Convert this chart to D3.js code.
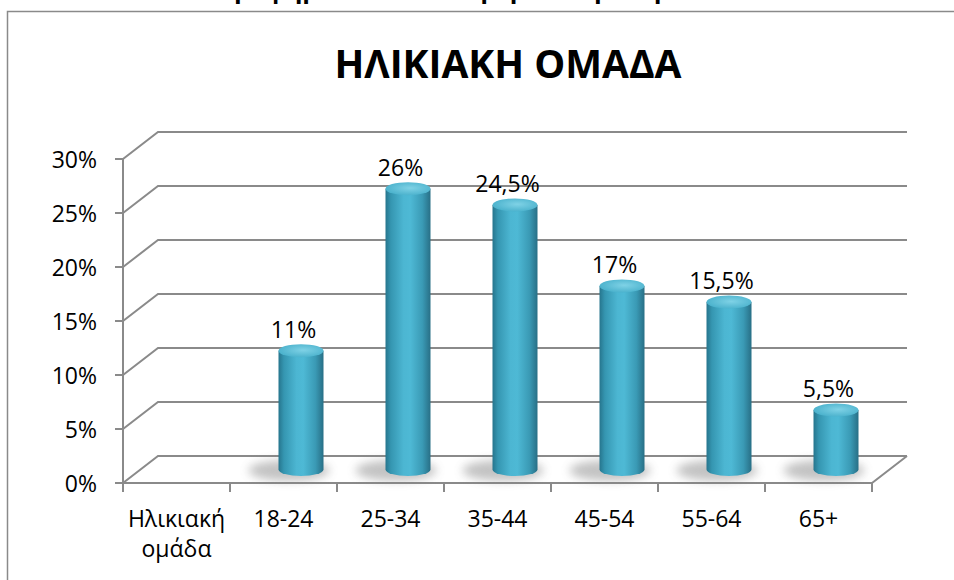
<!DOCTYPE html>
<html>
<head>
<meta charset="utf-8">
<script src="https://cdn.jsdelivr.net/npm/d3@7"></script>
<style>
  body { margin: 0; background: #fff; }
  svg { display: block; font-family: "Open Sans", sans-serif; }
</style>
</head>
<body>
<script>
const categories = ["Ηλικιακή ομάδα", "18-24", "25-34", "35-44", "45-54", "55-64", "65+"];
const values = [null, 11, 26, 24.5, 17, 15.5, 5.5];
const yTicks = [0, 5, 10, 15, 20, 25, 30];
const title = "ΗΛΙΚΙΑΚΗ ΟΜΑΔΑ";
const caption = "Γράφημα 2: Ηλικιακή ομάδα ερωτηθέντων";

const width = 954, height = 580;
const depthX = 35, depthY = -27; // back wall offset

const svg = d3.select("body").append("svg")
  .attr("width", width)
  .attr("height", height);

const defs = svg.append("defs");

// body gradient of the cylinders
const bodyGrad = defs.append("linearGradient").attr("id", "cylBody")
  .attr("x1", "0%").attr("x2", "100%").attr("y1", "0%").attr("y2", "0%");
[["0%", "#26758d"], ["12%", "#3596b1"], ["40%", "#4cb6d2"], ["55%", "#4eb9d5"],
 ["82%", "#3a9ab5"], ["100%", "#286f86"]].forEach(s =>
  bodyGrad.append("stop").attr("offset", s[0]).attr("stop-color", s[1]));

const topGrad = defs.append("radialGradient").attr("id", "cylTop")
  .attr("cx", "55%").attr("cy", "45%").attr("r", "60%");
topGrad.append("stop").attr("offset", "0%").attr("stop-color", "#7fd2e6");
topGrad.append("stop").attr("offset", "100%").attr("stop-color", "#48b0cb");

defs.append("filter").attr("id", "blur")
  .attr("x", "-50%").attr("y", "-100%").attr("width", "200%").attr("height", "300%")
  .append("feGaussianBlur").attr("stdDeviation", 5);

// outer frame
svg.append("rect")
  .attr("x", 7.5).attr("y", 11.5)
  .attr("width", 980).attr("height", 620)
  .attr("fill", "none")
  .attr("stroke", "#8a8a8a")
  .attr("stroke-width", 1.5);

// caption of the page, cut off by the top edge as in the source
svg.append("text")
  .attr("x", 488).attr("y", -2)
  .attr("text-anchor", "middle")
  .attr("font-size", 25)
  .attr("font-weight", "bold")
  .text(caption);

svg.append("text")
  .attr("x", 508).attr("y", 78)
  .attr("text-anchor", "middle")
  .attr("font-size", 39)
  .attr("font-weight", "bold")
  .text(title);

const x = d3.scaleBand()
  .domain(categories)
  .range([123, 872]);

const y = d3.scaleLinear()
  .domain([0, 30])
  .range([483, 159]);

const gridColor = "#8a8a8a";
const grid = svg.append("g")
  .attr("stroke", gridColor)
  .attr("stroke-width", 2)
  .attr("fill", "none");

// back wall gridlines + side diagonals
yTicks.forEach(t => {
  const y0 = y(t);
  grid.append("path")
    .attr("d", `M${x.range()[0]},${y0} L${x.range()[0] + depthX},${y0 + depthY} L${x.range()[1] + depthX},${y0 + depthY}`);
});

// floor right edge and front edge
grid.append("path")
  .attr("d", `M${x.range()[0]},${y(0)} L${x.range()[1]},${y(0)} L${x.range()[1] + depthX},${y(0) + depthY}`);

// y axis
grid.append("line")
  .attr("x1", x.range()[0]).attr("x2", x.range()[0])
  .attr("y1", y(30)).attr("y2", y(0));

yTicks.forEach(t => {
  grid.append("line")
    .attr("x1", x.range()[0] - 8).attr("x2", x.range()[0])
    .attr("y1", y(t)).attr("y2", y(t));
});

// x ticks at band edges
categories.concat([null]).forEach((c, i) => {
  const xp = x.range()[0] + i * x.bandwidth();
  grid.append("line")
    .attr("x1", xp).attr("x2", xp)
    .attr("y1", y(0)).attr("y2", y(0) + 9);
});

svg.append("g").selectAll("text")
  .data(yTicks)
  .join("text")
  .attr("x", 97)
  .attr("y", d => y(d) + 9)
  .attr("text-anchor", "end")
  .attr("font-size", 23)
  .attr("fill", "#000")
  .text(d => d + "%");

// category labels
const catLabels = svg.append("g").selectAll("text")
  .data(categories)
  .join("text")
  .attr("x", d => x(d) + x.bandwidth() / 2)
  .attr("y", 527)
  .attr("text-anchor", "middle")
  .attr("font-size", 23)
  .attr("fill", "#000");

catLabels.each(function(d) {
  const words = d.split(" ");
  const el = d3.select(this);
  words.forEach((w, i) => {
    el.append("tspan")
      .attr("x", x(d) + x.bandwidth() / 2)
      .attr("dy", i === 0 ? 0 : 30)
      .text(w);
  });
});

// cylinders
const r = 22.5, ry = 6.5;
const bars = categories.map((c, i) => ({ cat: c, value: values[i] }))
  .filter(d => d.value != null);

const barG = svg.append("g");

bars.forEach(d => {
  const cx = x(d.cat) + x.bandwidth() / 2 + depthX / 2;
  const yb = y(0) + depthY / 2;
  const yt = y(d.value) + depthY / 2;

  barG.append("ellipse")
    .attr("cx", cx - 12).attr("cy", yb + 1)
    .attr("rx", r + 18).attr("ry", ry + 4)
    .attr("fill", "#7a7a7a")
    .attr("opacity", 0.45)
    .attr("filter", "url(#blur)");

  barG.append("path")
    .attr("d", `M${cx - r},${yt} L${cx - r},${yb} A${r},${ry} 0 0 0 ${cx + r},${yb} L${cx + r},${yt} Z`)
    .attr("fill", "url(#cylBody)");

  barG.append("ellipse")
    .attr("cx", cx).attr("cy", yt)
    .attr("rx", r).attr("ry", ry)
    .attr("fill", "url(#cylTop)");

  barG.append("text")
    .attr("x", x(d.cat) + x.bandwidth() / 2 + 10)
    .attr("y", yt - 13)
    .attr("text-anchor", "middle")
    .attr("font-size", 23)
    .attr("fill", "#000")
    .text(String(d.value).replace(".", ",") + "%");
});
</script>
</body>
</html>
